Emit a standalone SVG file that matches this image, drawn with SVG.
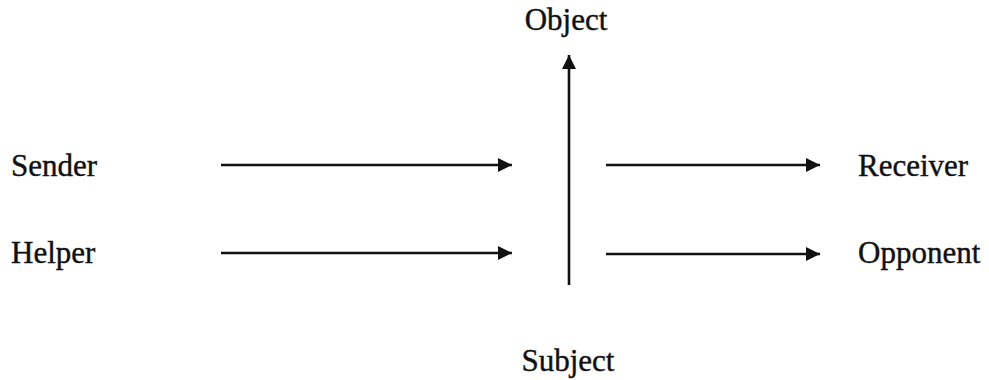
<svg xmlns="http://www.w3.org/2000/svg" width="989" height="380" viewBox="0 0 989 380">
<style>
  .lbl { font-family: "Liberation Serif", "Times New Roman", serif; font-size: 31px; fill: #111; stroke: #111; stroke-width: 0.4; }
  .edge { stroke: #111; stroke-width: 2.6; fill: none; }
</style>
<defs>
  <marker id="ah" markerUnits="userSpaceOnUse" markerWidth="15" markerHeight="15" viewBox="0 0 15 15" refX="14" refY="7.5" orient="auto">
    <path d="M0,0.5 L14,7.5 L0,14.5 Z" fill="#111"/>
  </marker>
</defs>
<rect width="989" height="380" fill="#fff"/>
<g id="object"><text class="lbl" x="566" y="30" text-anchor="middle">Object</text></g>
<g id="subject"><text class="lbl" x="568" y="371" text-anchor="middle">Subject</text></g>
<g id="sender"><text class="lbl" x="11" y="176">Sender</text></g>
<g id="helper"><text class="lbl" x="11" y="263">Helper</text></g>
<g id="receiver"><text class="lbl" x="858" y="176">Receiver</text></g>
<g id="opponent"><text class="lbl" x="858" y="263">Opponent</text></g>
<g id="connectors">
  <line class="edge" x1="221" y1="165" x2="512" y2="165" marker-end="url(#ah)"/>
  <line class="edge" x1="221" y1="253" x2="512" y2="253" marker-end="url(#ah)"/>
  <line class="edge" x1="606" y1="165" x2="820" y2="165" marker-end="url(#ah)"/>
  <line class="edge" x1="606" y1="254" x2="820" y2="254" marker-end="url(#ah)"/>
  <line class="edge" x1="569" y1="285" x2="569" y2="55" marker-end="url(#ah)"/>
</g>
</svg>
